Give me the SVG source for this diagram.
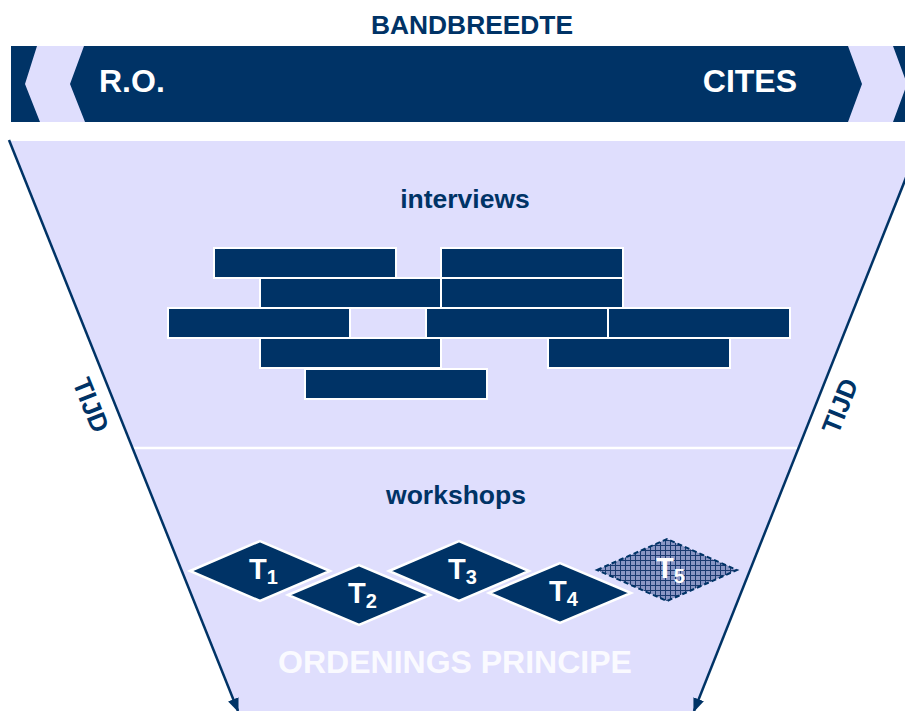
<svg xmlns="http://www.w3.org/2000/svg" width="905" height="711" viewBox="0 0 905 711">
  <defs>
    <style>
      .navy { fill: #003366; }
      .lav { fill: #DFDEFD; }
      .bold { font-family: "Liberation Sans", Arial, sans-serif; font-weight: bold; }
      .title { fill: #003366; font-size: 26.5px; text-anchor: middle; }
      .band { fill: #ffffff; font-size: 32px; }
      .bar { fill: #003366; stroke: #ffffff; stroke-width: 2; }
      .dia { fill: #003366; stroke: #ffffff; stroke-width: 2.5; }
      .dia5 { fill: url(#grid); stroke: #003366; stroke-width: 2; stroke-dasharray: 5 3; }
      .tl { fill: #ffffff; font-size: 29px; }
      .sub { font-size: 20px; }
      .axis { stroke: #003366; stroke-width: 2.5; fill: none; }
      .tijd { fill: #003366; font-size: 26px; text-anchor: middle; }
    </style>
    <pattern id="grid" width="5" height="5" patternUnits="userSpaceOnUse">
      <rect width="5" height="5" fill="#8A96C4"/>
      <path d="M0 0.5 H5 M0.5 0 V5" stroke="#1A3A70" stroke-width="1"/>
    </pattern>
    <marker id="arrowBig" viewBox="0 0 10 10" refX="9" refY="5" markerWidth="14" markerHeight="14" orient="auto" markerUnits="userSpaceOnUse">
      <path d="M0 1 L10 5 L0 9 Z" fill="#003366"/>
    </marker>
  </defs>

  <rect width="905" height="711" fill="#ffffff"/>

  <!-- funnel background -->
  <g id="funnel">
    <polygon class="lav" points="10,141 905,141 905,179 693,711 237,711"/>
    <line x1="133" y1="448" x2="797" y2="448" stroke="#ffffff" stroke-width="2.5"/>
  </g>

  <!-- bandwidth band -->
  <g id="bandbreedte">
    <text class="bold title" x="472" y="34" textLength="202" lengthAdjust="spacingAndGlyphs" font-size="22">BANDBREEDTE</text>
  </g>
  <g id="band">
    <rect class="navy" x="11" y="46" width="894" height="76"/>
    <polygon class="lav" points="37,46 84,46 70,84 85,122 40,122 25,84"/>
    <polygon class="lav" points="848,46 893,46 907,84 893,122 848,122 862,84"/>
    <text class="bold band" x="99" y="92">R.O.</text>
    <text class="bold band" x="797" y="92" text-anchor="end">CITES</text>
  </g>

  <!-- interviews -->
  <g id="interviews-label">
    <text class="bold title" x="465" y="208">interviews</text>
  </g>
  <g id="interviews">
    <rect id="bar1" class="bar" x="214" y="248" width="182" height="30"/>
    <rect id="bar2" class="bar" x="441" y="248" width="182" height="30"/>
    <rect id="bar3" class="bar" x="260" y="278" width="181" height="30"/>
    <rect id="bar4" class="bar" x="441" y="278" width="182" height="30"/>
    <rect id="bar5" class="bar" x="168" y="308" width="182" height="30"/>
    <rect id="bar6" class="bar" x="426" y="308" width="182" height="30"/>
    <rect id="bar7" class="bar" x="608" y="308" width="182" height="30"/>
    <rect id="bar8" class="bar" x="260" y="338" width="181" height="30"/>
    <rect id="bar9" class="bar" x="548" y="338" width="182" height="30"/>
    <rect id="bar10" class="bar" x="305" y="369" width="182" height="30"/>
  </g>

  <!-- workshops -->
  <g id="workshops-label">
    <text class="bold title" x="456" y="504">workshops</text>
  </g>
  <g id="T1">
    <polygon class="dia" points="190,571 260,541 330,571 260,601"/>
    <text class="bold tl" x="249" y="579">T<tspan class="sub" dy="5">1</tspan></text>
  </g>
  <g id="T2">
    <polygon class="dia" points="288,595 359,565 430,595 359,625"/>
    <text class="bold tl" x="348" y="603">T<tspan class="sub" dy="5">2</tspan></text>
  </g>
  <g id="T3">
    <polygon class="dia" points="389,571 459,541 529,571 459,601"/>
    <text class="bold tl" x="448" y="579">T<tspan class="sub" dy="5">3</tspan></text>
  </g>
  <g id="T4">
    <polygon class="dia" points="489,593 560,563 631,593 560,623"/>
    <text class="bold tl" x="549" y="601">T<tspan class="sub" dy="5">4</tspan></text>
  </g>
  <g id="T5">
    <polygon class="dia5" points="597,570 667,539 737,570 667,601"/>
    <text class="bold tl" x="656" y="578">T<tspan class="sub" dy="5">5</tspan></text>
  </g>

  <g id="ordenings">
    <text class="bold" x="455" y="673" font-size="32" fill="#FAFAFF" text-anchor="middle">ORDENINGS PRINCIPE</text>
  </g>

  <!-- time axes -->
  <g id="connectors">
    <line class="axis" x1="9" y1="140" x2="238" y2="711" marker-end="url(#arrowBig)"/>
    <line class="axis" x1="921" y1="140" x2="694" y2="711" marker-end="url(#arrowBig)"/>
  </g>
  <g id="tijd-left">
    <text class="bold tijd" transform="translate(91,405) rotate(68.2)" x="0" y="9">TIJD</text>
  </g>
  <g id="tijd-right">
    <text class="bold tijd" transform="translate(840,406) rotate(-68.2)" x="0" y="9">TIJD</text>
  </g>
</svg>
